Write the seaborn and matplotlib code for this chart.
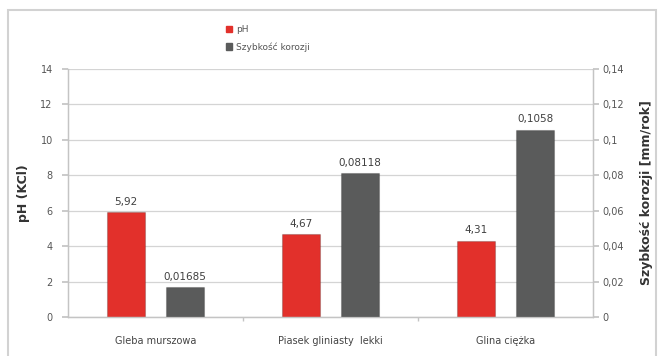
import matplotlib
matplotlib.use("Agg")
import matplotlib.pyplot as plt
from matplotlib.patches import Rectangle
from matplotlib.ticker import FuncFormatter, FixedLocator
import seaborn as sns
import pandas as pd

categories = ["Gleba murszowa", "Piasek gliniasty  lekki", "Glina ciężka"]
ph_values = [5.92, 4.67, 4.31]
corrosion_values = [0.01685, 0.08118, 0.1058]
ph_labels = ["5,92", "4,67", "4,31"]
corrosion_labels = ["0,01685", "0,08118", "0,1058"]
series = ["pH", "Szybkość korozji"]
colors = ["#e2302b", "#5a5b5b"]

sns.set_theme(style="white")
plt.rcParams["font.family"] = ["DejaVu Sans"]

n = len(categories)
df_ph = pd.DataFrame({
    "kategoria": categories * 2,
    "seria": [series[0]] * n + [series[1]] * n,
    "wartosc": ph_values + [float("nan")] * n,
})
df_cor = pd.DataFrame({
    "kategoria": categories * 2,
    "seria": [series[0]] * n + [series[1]] * n,
    "wartosc": [float("nan")] * n + corrosion_values,
})

fig = plt.figure(figsize=(6.6, 3.56), dpi=100)
fig.patch.set_facecolor("white")
ax1 = fig.add_axes([68 / 660, 1 - 317 / 356, 525 / 660, 248 / 356])
ax2 = ax1.twinx()

common = dict(x="kategoria", y="wartosc", hue="seria", hue_order=series,
              palette=colors, width=0.675, gap=0.35, errorbar=None,
              saturation=1, legend=False)
sns.barplot(data=df_ph, ax=ax1, **common)
sns.barplot(data=df_cor, ax=ax2, **common)

for ax in (ax1, ax2):
    for p in ax.patches:
        p.set_edgecolor("#00000030")
        p.set_linewidth(0.8)

ax1.set_ylim(0, 14)
ax2.set_ylim(0, 0.14)
ax1.set_xlim(-0.5, n - 0.5)
ax1.set_yticks(range(0, 15, 2))
ax2.set_yticks([i * 0.02 for i in range(8)])
ax2.yaxis.set_major_formatter(FuncFormatter(lambda v, _: f"{v:g}".replace(".", ",")))

ax1.yaxis.grid(True, color="#d4d4d4", linewidth=0.9)
ax1.set_axisbelow(True)
ax2.set_axisbelow(True)

for ax in (ax1, ax2):
    ax.spines["top"].set_visible(False)
    for side in ("left", "right", "bottom"):
        ax.spines[side].set_color("#c4c4c4")
        ax.spines[side].set_linewidth(0.9)

ax1.tick_params(axis="y", which="major", length=4, color="#c4c4c4",
                labelsize=7, labelcolor="#555555", pad=7, left=True)
ax2.tick_params(axis="y", which="major", length=4, color="#c4c4c4",
                labelsize=7, labelcolor="#555555", pad=3, right=True)
ax1.tick_params(axis="x", which="major", length=0, labelsize=7,
                labelcolor="#444444", pad=14)
ax1.xaxis.set_minor_locator(FixedLocator([0.5, 1.5]))
ax1.tick_params(axis="x", which="minor", length=3, color="#c4c4c4", bottom=True)

ax1.set_xlabel("")
ax2.set_xlabel("")
ax1.set_ylabel("pH (KCl)", fontsize=9, fontweight="bold", color="#333333")
ax2.set_ylabel("Szybkość korozji [mm/rok]", fontsize=9, fontweight="bold",
               color="#333333")
ax1.yaxis.set_label_coords((30 - 68) / 525, 0.5)
ax2.yaxis.set_label_coords((640 - 68) / 525, 0.5)

# value labels above the bars
ph_bars = [p for p in ax1.patches if p.get_height() == p.get_height() and p.get_height() > 0]
cor_bars = [p for p in ax2.patches if p.get_height() == p.get_height() and p.get_height() > 0]
for bar, txt in zip(ph_bars, ph_labels):
    ax1.annotate(txt, (bar.get_x() + bar.get_width() / 2, bar.get_height()),
                 xytext=(0, 4), textcoords="offset points", ha="center",
                 va="bottom", fontsize=7.5, color="#404040")
for bar, txt in zip(cor_bars, corrosion_labels):
    ax2.annotate(txt, (bar.get_x() + bar.get_width() / 2, bar.get_height()),
                 xytext=(0, 4), textcoords="offset points", ha="center",
                 va="bottom", fontsize=7.5, color="#404040")

handles = [Rectangle((0, 0), 1, 1, color=c) for c in colors]
fig.legend(handles, series, loc="upper left", bbox_to_anchor=(218 / 660, 1 - 17 / 356),
           frameon=False, fontsize=6.5, handlelength=0.7, handleheight=0.7,
           handletextpad=0.4, labelspacing=0.9, labelcolor="#555555")

fig.patches.append(Rectangle((8 / 660, -0.05), 648 / 660, 1.05 - 10 / 356,
                             transform=fig.transFigure, fill=False,
                             edgecolor="#d2d2d2", linewidth=1.5))

fig.savefig("out.png", dpi=100, facecolor="white")
